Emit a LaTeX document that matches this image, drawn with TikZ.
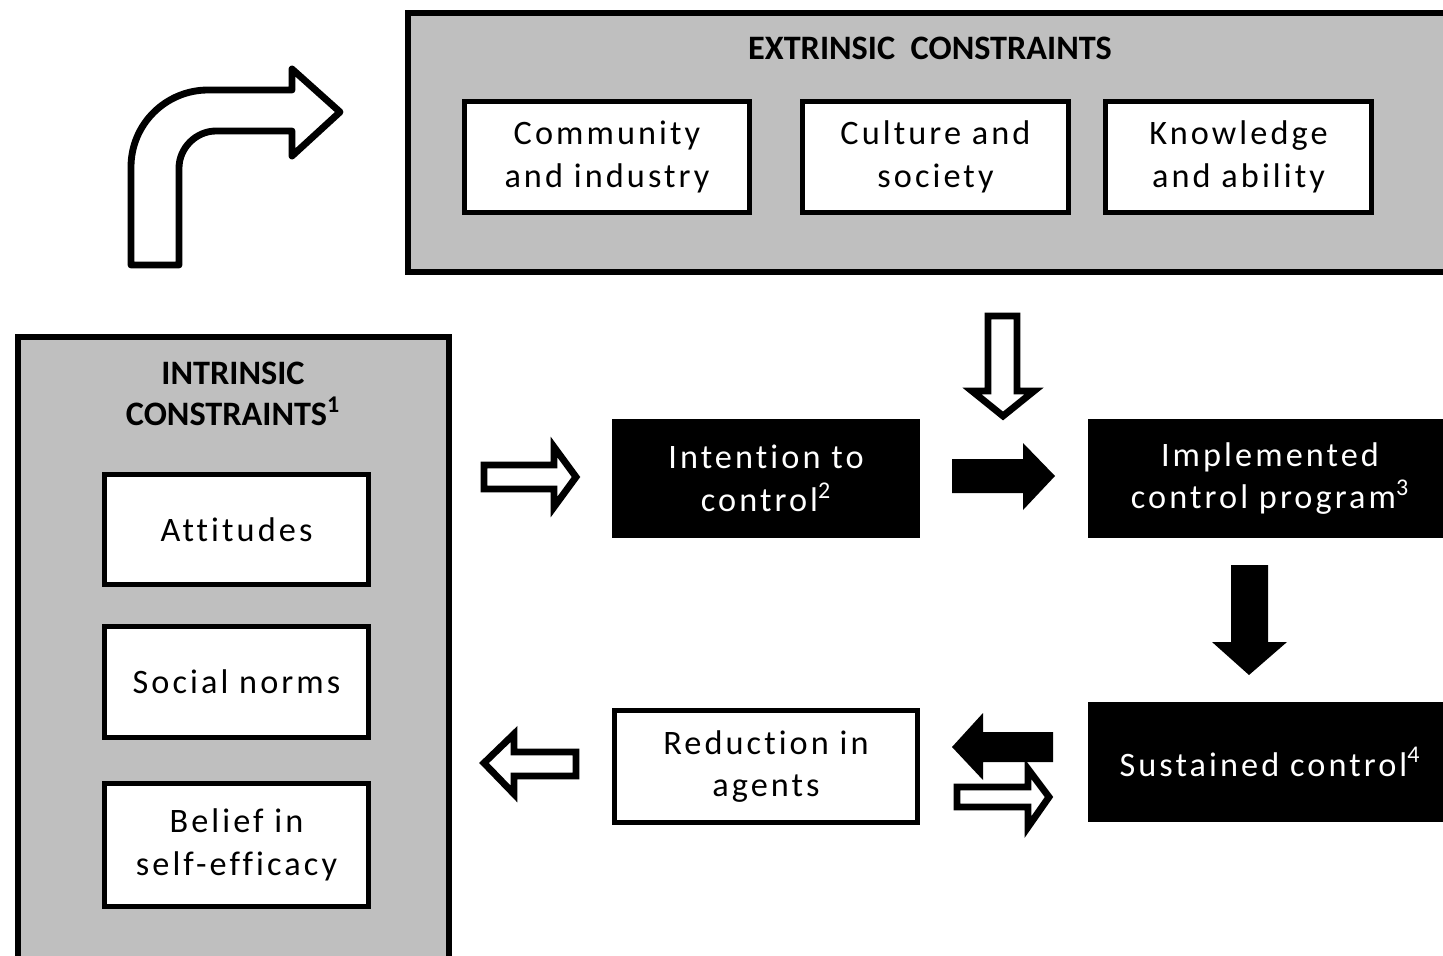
\documentclass[tikz,border=0pt]{standalone}
\usepackage{fontspec}
\setmainfont{Carlito}
\newfontfamily\boxfont{Carlito}[LetterSpace=9, Ligatures=NoCommon]
\def\px{0.02cm}
\definecolor{panelgray}{HTML}{BFBFBF}
\tikzset{
    panel/.style={draw=black, line width=3.4pt, fill=panelgray},
    paneltitle/.style={font=\bfseries\fontsize{19.5}{23.5}\selectfont, align=center, inner sep=0pt},
    whitebox/.style={draw=black, line width=2.83pt, fill=white, align=center, inner sep=0pt,
        font=\boxfont\fontsize{19.5}{24.3}\selectfont},
    blackbox/.style={fill=black, text=white, align=center, inner sep=0pt,
        font=\boxfont\fontsize{19.5}{24.3}\selectfont},
    hollowarrow/.style={draw=black, line width=3.9pt, fill=white, line join=miter},
    blockarrow/.style={fill=black},
}
\begin{document}
\begin{tikzpicture}[x=0.02cm, y=-0.02cm]
    \useasboundingbox (0,0) rectangle (1443,956);
    \clip (0,0) rectangle (1443,956);

    % extrinsic panel
    \draw[panel] (408,13) rectangle (1470,272);
    \node[paneltitle] (extitle) at (930,48) {EXTRINSIC~ CONSTRAINTS};
    \node[whitebox, minimum width=285*\px, minimum height=111*\px] (community) at (607,157) {Community\\and industry};
    \node[whitebox, minimum width=266*\px, minimum height=111*\px] (culture) at (935.5,157) {Culture and\\society};
    \node[whitebox, minimum width=266*\px, minimum height=111*\px] (knowledge) at (1238.5,157) {Knowledge\\and ability};

    % bent arrow
    \draw[hollowarrow, line join=round] (131,265) -- (131,167) .. controls (131,124) and (166,90) .. (208,90)
        -- (292,90) -- (292,69) -- (340,112) -- (292,156) -- (292,131) -- (216,131)
        .. controls (196,131) and (179,148) .. (179,168) -- (179,265) -- cycle;

    % intrinsic panel
    \draw[panel] (18,337) rectangle (449,990);
    \node[paneltitle] (intitle) at (233,394) {INTRINSIC\\CONSTRAINTS\textsuperscript{1}};
    \node[whitebox, minimum width=264*\px, minimum height=110*\px] (attitudes) at (236.5,529.5) {Attitudes};
    \node[whitebox, minimum width=264*\px, minimum height=111*\px] (norms) at (236.5,682) {Social norms};
    \node[whitebox, minimum width=264*\px, minimum height=123*\px] (belief) at (236.5,845) {Belief in\\self-efficacy};

    % process boxes
    \node[blackbox, minimum width=308*\px, minimum height=119*\px] (intention) at (766,478.5) {Intention to\\control\textsuperscript{2}};
    \node[blackbox, minimum width=364*\px, minimum height=119*\px] (implemented) at (1270,478.5) {Implemented\\control program\textsuperscript{3}};
    \node[blackbox, minimum width=364*\px, minimum height=120*\px] (sustained) at (1270,762) {Sustained control\textsuperscript{4}};
    \node[whitebox, minimum width=303*\px, minimum height=112*\px] (reduction) at (766,766.5) {Reduction in\\agents};

    % arrows between boxes
    \draw[hollowarrow] (484,465) -- (554,465) -- (554,447) -- (576,477) -- (554,507) -- (554,489) -- (484,489) -- cycle;
    \fill[blockarrow] (952,459) -- (1023,459) -- (1023,443) -- (1055,476) -- (1023,510) -- (1023,493) -- (952,493) -- cycle;
    \draw[hollowarrow] (988,316) -- (1017,316) -- (1017,391) -- (1034,391) -- (1003,416) -- (972,391) -- (988,391) -- cycle;
    \fill[blockarrow] (1231,565) -- (1268,565) -- (1268,642) -- (1287,642) -- (1249,675) -- (1212,642) -- (1231,642) -- cycle;
    \fill[blockarrow] (1053,732) -- (983,732) -- (983,713) -- (952,747) -- (983,780) -- (983,762) -- (1053,762) -- cycle;
    \draw[hollowarrow] (957,787) -- (1028,787) -- (1028,769) -- (1049,797) -- (1028,827) -- (1028,807) -- (957,807) -- cycle;
    \draw[hollowarrow] (576,752) -- (514,752) -- (514,734) -- (484,763) -- (514,794) -- (514,776) -- (576,776) -- cycle;
\end{tikzpicture}
\end{document}
